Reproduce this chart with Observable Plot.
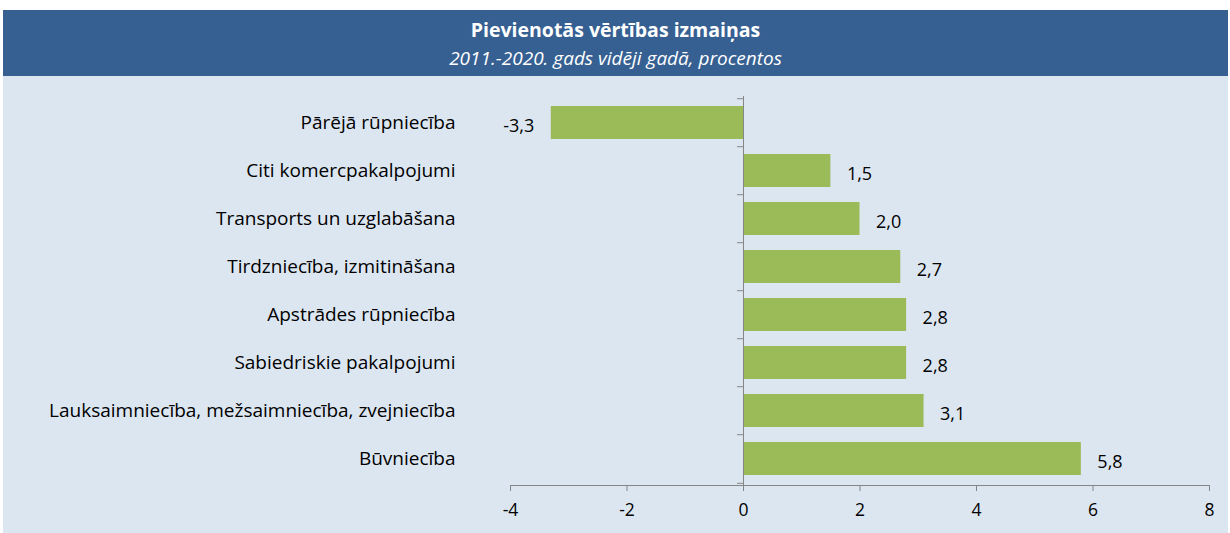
<!DOCTYPE html>
<html><head><meta charset="utf-8">
<script src="https://cdn.jsdelivr.net/npm/d3@7"></script>
<script src="https://cdn.jsdelivr.net/npm/@observablehq/plot@0.6"></script>
<style>
body{margin:0;background:#fff;font-family:"Open Sans",sans-serif;}
#wrap{position:absolute;left:3px;top:10px;width:1225px;height:523px;background:#dce6f1;}
#head{height:66px;background:#366092;color:#fff;text-align:center;}
#t1{font-weight:bold;font-size:19.5px;padding-top:7px;line-height:26px;}
#t2{font-style:italic;font-size:19px;line-height:26px;margin-top:2px;}
</style></head>
<body>
<div id="wrap"><div id="head"><div id="t1">Pievienotās vērtības izmaiņas</div><div id="t2">2011.-2020. gads vidēji gadā, procentos</div></div><div id="chart"></div></div>
<script>
const categories = ["Pārējā rūpniecība","Citi komercpakalpojumi","Transports un uzglabāšana","Tirdzniecība, izmitināšana","Apstrādes rūpniecība","Sabiedriskie pakalpojumi","Lauksaimniecība, mežsaimniecība, zvejniecība","Būvniecība"];
const values = [-3.3, 1.5, 2.0, 2.7, 2.8, 2.8, 3.1, 5.8];
const xTicks = [-4, -2, 0, 2, 4, 6, 8];

const data = categories.map((c, i) => ({cat: c, v: values[i]}));
const W = 1225, H = 457, mT = 20, mB = 48, mL = 507, mR = 19;
const band = (H - mT - mB) / categories.length;
const unit = (W - mL - mR) / (xTicks[xTicks.length-1] - xTicks[0]);
const fmt = v => v.toFixed(1).replace(".", ",");

const chart = Plot.plot({
  width: W, height: H,
  marginTop: mT, marginBottom: mB, marginLeft: mL, marginRight: mR,
  style: {background: "#dce6f1", fontFamily: "Open Sans", fontSize: "17px", color: "#000"},
  x: {domain: [-4, 8], ticks: xTicks, tickFormat: d => String(d), label: null},
  y: {domain: categories, paddingInner: 0.32, paddingOuter: 0.16, align: 0.5, label: null},
  marks: [
    Plot.barX(data, {x: "v", y: "cat", fill: "#9bbb59"}),
    Plot.ruleX([0], {stroke: "#868686"}),
    Plot.ruleY(categories, {y: d => d, x1: -6/unit, x2: 0, dy: -band/2, stroke: "#868686"}),
    Plot.ruleY([categories[categories.length-1]], {y: d => d, x1: -6/unit, x2: 0, dy: band/2, stroke: "#868686"}),
    Plot.frame({anchor: "bottom", stroke: "#868686"}),
    Plot.axisX({ticks: xTicks, tickFormat: d => String(d), tickSize: 6, tickPadding: 12, stroke: "#868686", fill: "#000", fontSize: 17.5, label: null}),
    Plot.axisY({tickSize: 0, tickPadding: 55, fill: "#000", fontSize: 19, label: null}),
    Plot.text(data.filter(d => d.v < 0), {x: "v", y: "cat", text: d => fmt(d.v), textAnchor: "end", dx: -17, dy: 3, fill: "#000", fontSize: 18}),
    Plot.text(data.filter(d => d.v >= 0), {x: "v", y: "cat", text: d => fmt(d.v), textAnchor: "start", dx: 16, dy: 3, fill: "#000", fontSize: 18})
  ]
});
document.getElementById("chart").appendChild(chart);
</script>
</body></html>
